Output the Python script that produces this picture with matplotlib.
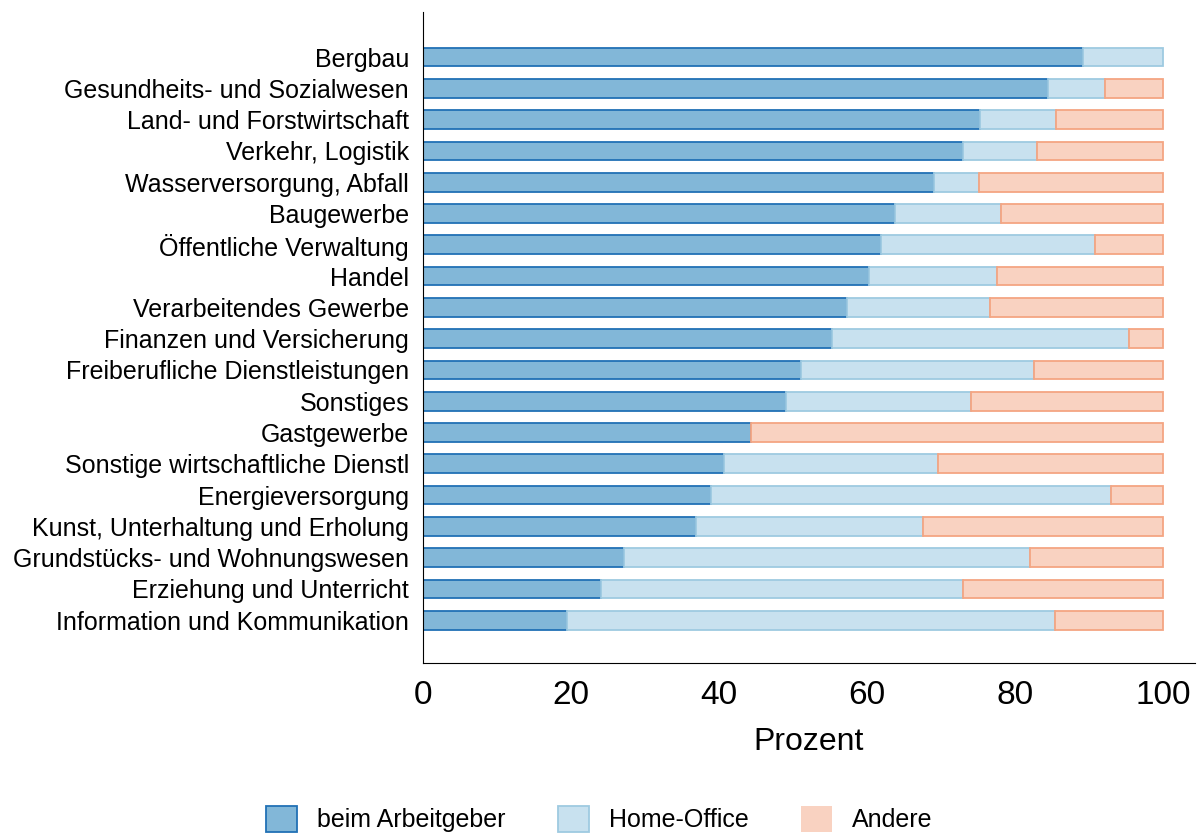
import matplotlib.pyplot as plt
import numpy as np

plt.rcParams['font.family'] = ['Liberation Sans', 'DejaVu Sans']

# Branchen (von oben nach unten)
branchen = ['Bergbau', 'Gesundheits- und Sozialwesen', 'Land- und Forstwirtschaft',
            'Verkehr, Logistik', 'Wasserversorgung, Abfall', 'Baugewerbe',
            'Öffentliche Verwaltung', 'Handel', 'Verarbeitendes Gewerbe',
            'Finanzen und Versicherung', 'Freiberufliche Dienstleistungen', 'Sonstiges',
            'Gastgewerbe', 'Sonstige wirtschaftliche Dienstl', 'Energieversorgung',
            'Kunst, Unterhaltung und Erholung', 'Grundstücks- und Wohnungswesen',
            'Erziehung und Unterricht', 'Information und Kommunikation']

# Anteile in Prozent
arbeitgeber = [89.2, 84.5, 75.3, 73.0, 69.1, 63.8, 61.9, 60.3, 57.3, 55.3,
               51.1, 49.1, 44.3, 40.7, 38.9, 36.9, 27.2, 24.1, 19.5]
home_office = [10.8, 7.7, 10.2, 10.0, 6.0, 14.3, 28.9, 17.3, 19.3, 40.1,
               31.5, 25.0, 0.0, 28.9, 54.1, 30.7, 54.8, 48.9, 65.9]
andere = [100 - a - h for a, h in zip(arbeitgeber, home_office)]

serien = [('beim Arbeitgeber', arbeitgeber, '#82b7d8', '#2171b5'),
          ('Home-Office', home_office, '#c8e1ef', '#9ecae1'),
          ('Andere', andere, '#f9d2c1', '#f4a582')]

fig = plt.figure(figsize=(11.98, 8.34), dpi=100)
ax = fig.add_axes([0.353, 0.205, 0.6445, 0.7806])

y = np.arange(len(branchen))
left = np.zeros(len(branchen))
for name, vals, fc, ec in serien:
    vals = np.round(np.array(vals), 2)
    # zero-width segments would leave a stray edge line, so hide them
    ecs = [ec if v > 0 else 'none' for v in vals]
    ax.barh(y, vals, left=left, height=0.6, color=fc, edgecolor=ecs,
            linewidth=1.3, label=name)
    left += vals

ax.set_yticks(y)
ax.set_yticklabels(branchen, fontsize=18)
ax.set_ylim(len(branchen) - 1 + 1.37, -1.44)
ax.set_xlim(0, 104.3)
ax.set_xticks([0, 20, 40, 60, 80, 100])
ax.tick_params(axis='x', labelsize=24, length=0, pad=12)
ax.tick_params(axis='y', length=0, pad=10)
ax.set_xlabel('Prozent', fontsize=23, labelpad=12)

for s in ['top', 'right']:
    ax.spines[s].set_visible(False)

handles, labels = ax.get_legend_handles_labels()
fig.legend(handles, labels, loc='center', bbox_to_anchor=(0.5, 1 - 819 / 834),
           ncol=3, frameon=False, fontsize=18, handlelength=1.24, handleheight=1.24,
           columnspacing=2.1, handletextpad=0.8, borderpad=0)

fig.savefig('out.png', dpi=100)
